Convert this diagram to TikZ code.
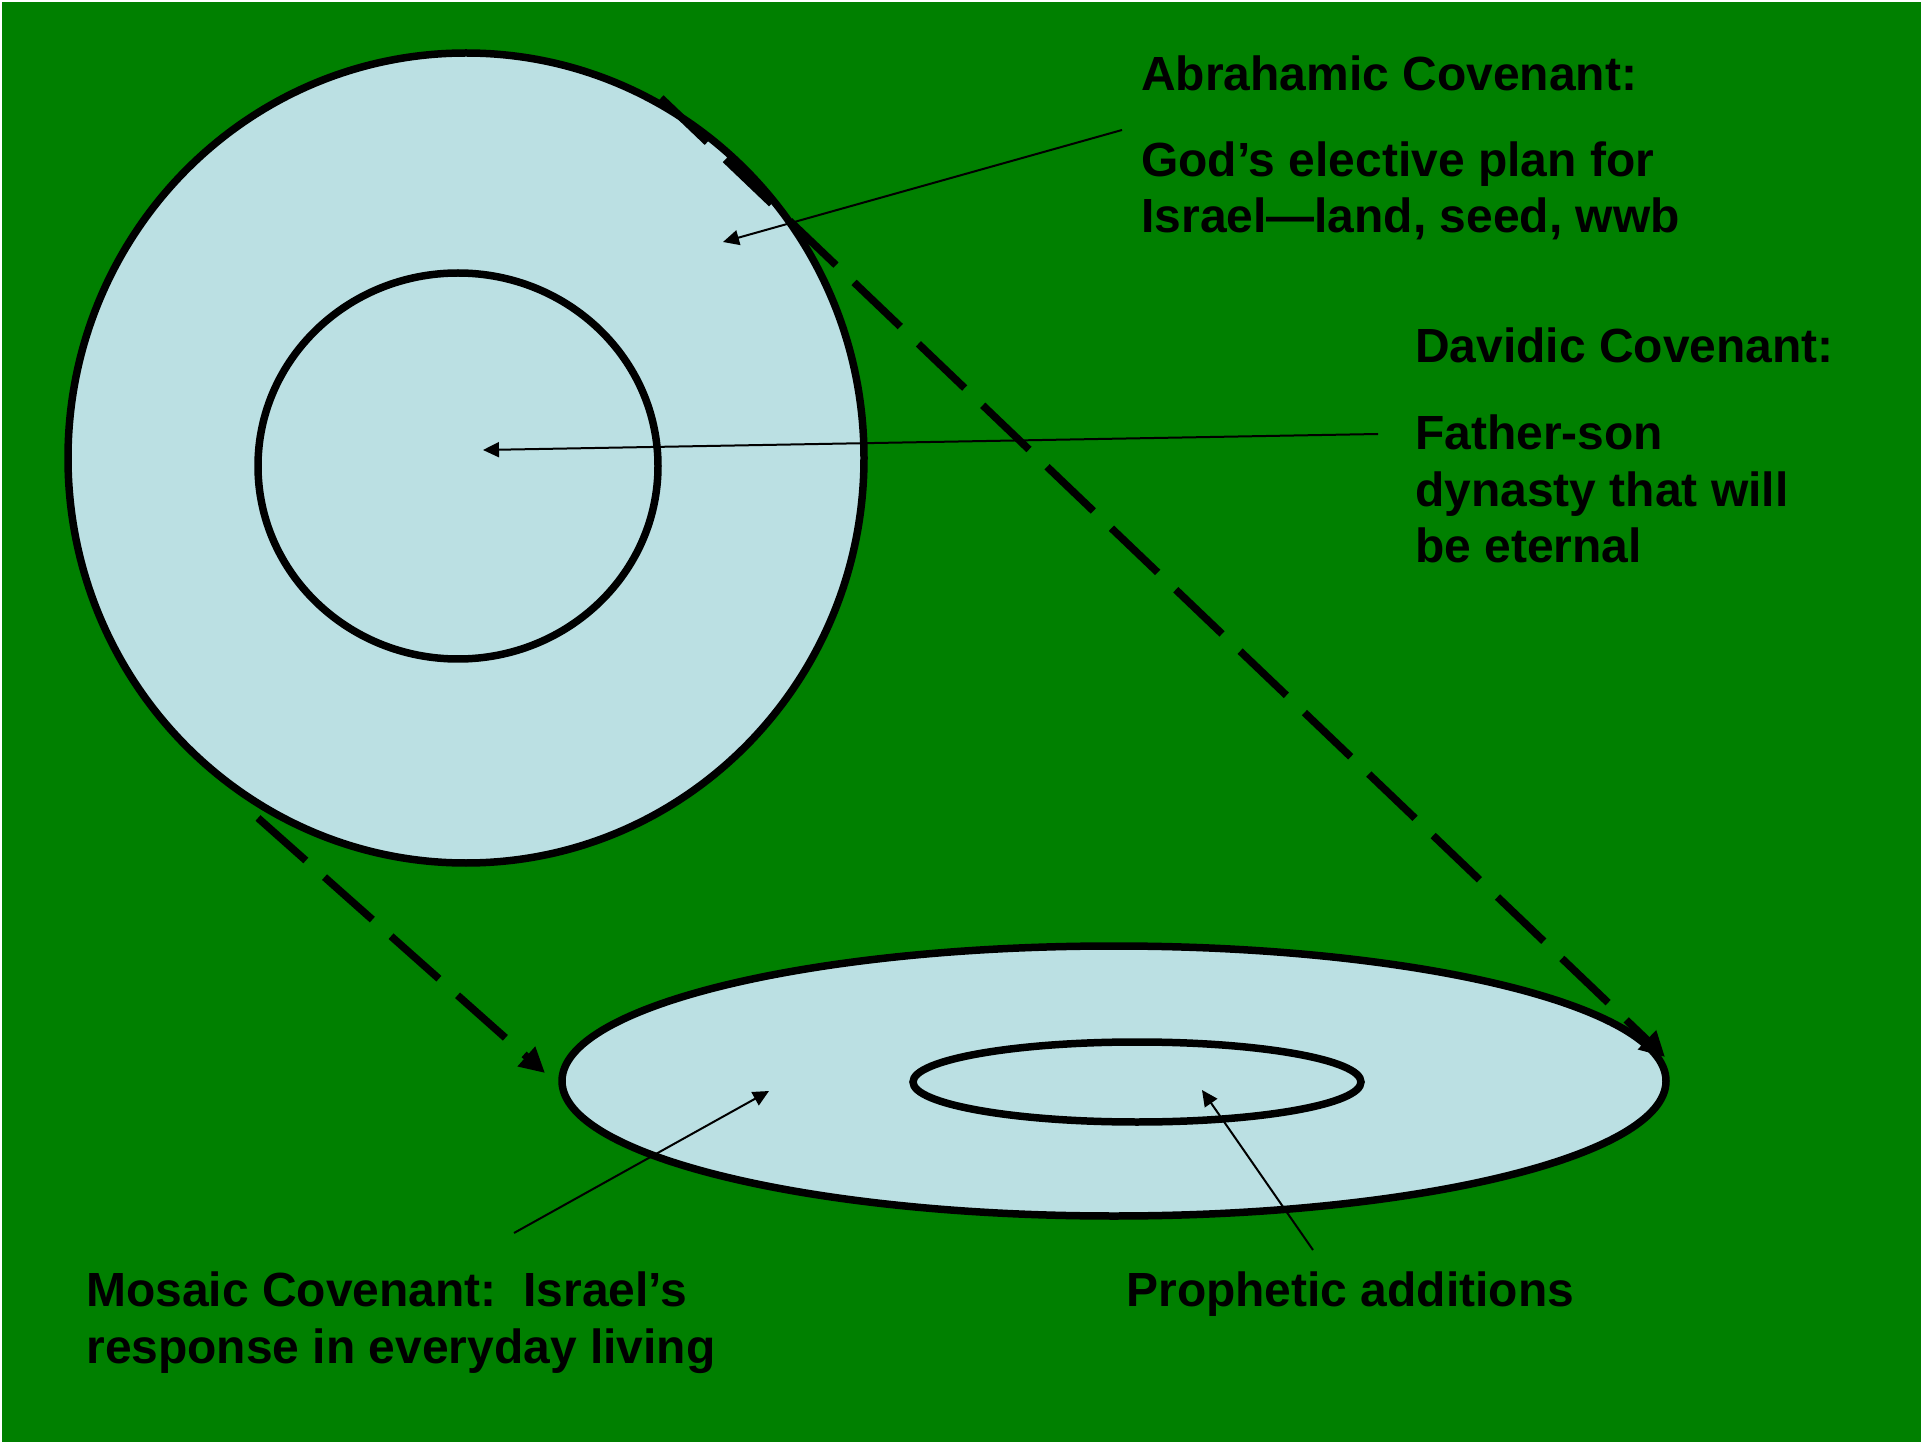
\documentclass[tikz,border=0pt]{standalone}
\usepackage{fontspec}
\setmainfont{Liberation Sans}
\usepackage{xcolor}
\usepackage{tikz}
\usetikzlibrary{arrows.meta,positioning}
\definecolor{bggreen}{RGB}{0,128,0}
\definecolor{ringblue}{RGB}{187,224,227}
\frenchspacing

\begin{document}
\begin{tikzpicture}[
    x=0.02cm, y=-0.02cm,
    ring/.style={draw=black, line width=0.15cm, fill=ringblue},
    dasharr/.style={-{Triangle[length=0.5cm,width=0.5cm]}, line width=0.15cm,
        dash pattern=on 1.28cm off 0.5cm},
    arr/.style={-{Triangle[length=0.32cm,width=0.3cm]}, line width=0.04cm},
    lbl/.style={anchor=base west, inner sep=0pt, align=left,
        font=\fontsize{27.3}{32.2}\selectfont\bfseries}
]
\useasboundingbox (0,0) rectangle (1921,1442);
\fill[white] (0,0) rectangle (1921,1442);
\fill[bggreen] (2,2) rectangle (1921,1442);

\coordinate (outerC) at (466,458);
\coordinate (innerC) at (458,466);
\coordinate (discC) at (1114,1081);
\coordinate (holeC) at (1137,1082);

\draw[ring] (outerC) ellipse [x radius=398, y radius=405];
\draw[ring] (innerC) ellipse [x radius=200, y radius=193];
\draw[ring] (discC) ellipse [x radius=552, y radius=135];
\draw[ring] (holeC) ellipse [x radius=224, y radius=40];

% base sits on the last line of each label
\node[lbl] (abrTitle) at (1141,91) {Abrahamic Covenant:};
\node[lbl] (abrText) at (1141,233) {God’s elective plan for\\Israel—land, seed, wwb};
\node[lbl] (davTitle) at (1415,363) {Davidic Covenant:};
\node[lbl] (davText) at (1415,563) {Father-son\\dynasty that will\\be eternal};
\node[lbl] (mosText) at (86,1363) {Mosaic Covenant:\ \ Israel’s\\response in everyday living};
\node[lbl] (proText) at (1126,1306) {Prophetic additions};

\coordinate (dashTopStart) at (661,98);
\coordinate (dashTopEnd) at (1665,1057);
\coordinate (dashLowStart) at (258,818);
\coordinate (dashLowEnd) at (545,1073);

\coordinate (abrTail) at (1122,130);
\coordinate (abrTip) at (723,242);
\coordinate (davTail) at (1378,434);
\coordinate (davTip) at (483,450);
\coordinate (mosTail) at (514,1233);
\coordinate (mosTip) at (769,1091);
\coordinate (proTail) at (1313,1250);
\coordinate (proTip) at (1202,1090);

\draw[dasharr] (dashTopStart) -- (dashTopEnd);
\draw[dasharr] (dashLowStart) -- (dashLowEnd);

\draw[arr] (abrTail) -- (abrTip);
\draw[arr] (davTail) -- (davTip);
\draw[arr] (mosTail) -- (mosTip);
\draw[arr] (proTail) -- (proTip);
\end{tikzpicture}
\end{document}
